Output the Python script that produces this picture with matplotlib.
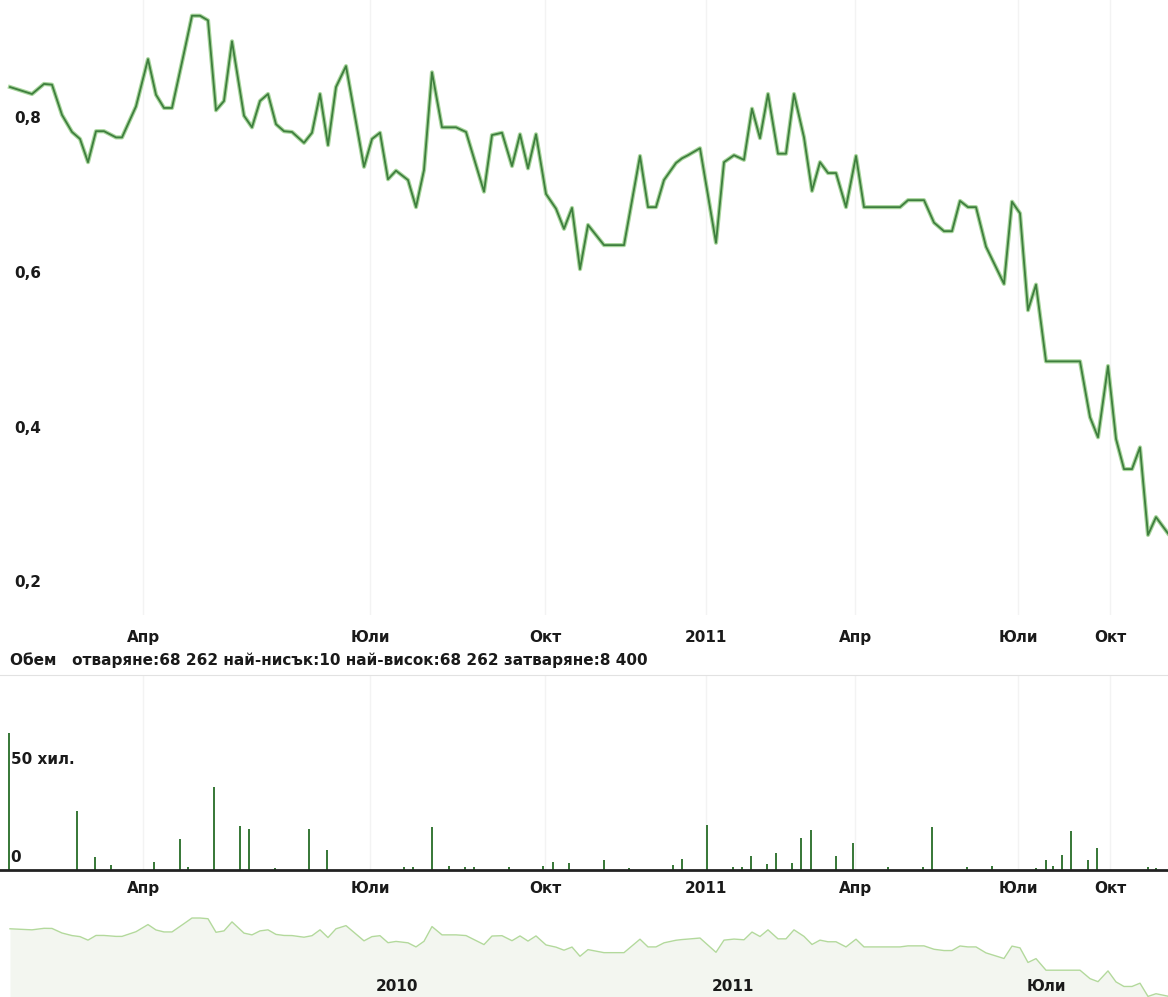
import matplotlib
matplotlib.use("Agg")
import matplotlib.pyplot as plt
import matplotlib.transforms as mtransforms

plt.rcParams['font.family'] = ['DejaVu Sans']

# Price series (x = trading-session position on the chart, y = price)
price_pos = [2.5, 8, 11, 13, 15.5, 18, 20, 22, 24, 26,
             29, 30.5, 34, 37, 39, 41, 43, 46, 48, 50,
             52, 54, 56, 58, 61, 63, 65, 67, 69, 71,
             73, 76, 78, 80, 82, 84, 86.5, 91, 93, 95,
             97, 99, 102, 104, 106, 108, 110.5, 114, 116.5, 121,
             123, 125.5, 128, 130, 132, 134, 136.5, 139, 141, 143,
             145, 147, 151, 156, 160, 162, 164, 166, 169, 170.5,
             172, 175, 179, 181, 183.5, 186, 188, 190, 192, 194.5,
             196.5, 198.5, 201, 203, 205, 207, 209, 211.5, 214, 216,
             225, 227, 231, 233.5, 236, 238, 240, 242, 244, 246.5,
             251, 253, 255, 257, 259, 261.5, 270, 272.5, 274.5, 277,
             279, 281, 283, 285, 287, 289, 292]
price_val = [0.840, 0.831, 0.844, 0.843, 0.804, 0.782, 0.773, 0.743, 0.783, 0.783,
             0.775, 0.775, 0.815, 0.876, 0.830, 0.813, 0.813, 0.884, 0.932, 0.932,
             0.926, 0.810, 0.822, 0.899, 0.803, 0.788, 0.822, 0.831, 0.792, 0.783,
             0.782, 0.768, 0.781, 0.831, 0.765, 0.840, 0.867, 0.737, 0.773, 0.781,
             0.721, 0.732, 0.720, 0.685, 0.733, 0.859, 0.788, 0.788, 0.782, 0.705,
             0.778, 0.781, 0.738, 0.779, 0.735, 0.779, 0.702, 0.683, 0.657, 0.684,
             0.605, 0.662, 0.636, 0.636, 0.751, 0.685, 0.685, 0.720, 0.742, 0.748,
             0.752, 0.761, 0.639, 0.743, 0.752, 0.746, 0.812, 0.774, 0.831, 0.754,
             0.754, 0.831, 0.775, 0.706, 0.743, 0.729, 0.729, 0.685, 0.751, 0.685,
             0.685, 0.694, 0.694, 0.665, 0.654, 0.654, 0.693, 0.685, 0.685, 0.634,
             0.586, 0.692, 0.677, 0.552, 0.585, 0.486, 0.486, 0.414, 0.388, 0.480,
             0.386, 0.347, 0.347, 0.375, 0.262, 0.285, 0.264]

# Volume (thousands of shares)
vol_pos = [2.25, 19.25, 23.75, 27.75, 38.5, 45, 47, 53.5, 60, 62.25,
           68.75, 77.25, 81.75, 101, 103.25, 108, 112.25, 116.25, 118.5, 127.25,
           135.75, 138.25, 142.25, 151, 157.25, 168.25, 170.5, 176.75, 183.25, 185.5,
           187.75, 191.75, 194, 198, 200.25, 202.75, 209, 213.25, 222, 230.75,
           233, 241.75, 248, 259, 261.5, 263.25, 265.5, 267.75, 272, 274.25,
           287, 289]
vol_k = [68.262, 29.5, 6.5, 2.5, 4, 15.5, 1.5, 41.5, 22, 20.5,
         1, 20.5, 10, 1.5, 1.5, 21.5, 2, 1.5, 1.5, 1.5,
         2, 4, 3.5, 5, 1, 2.5, 5.5, 22.5, 1.5, 1.5,
         7, 3, 8.5, 3.5, 16, 20, 7, 13.5, 1.5, 1.5,
         21.5, 1.5, 2, 1, 5, 2, 7.5, 19.5, 5, 11,
         1.5, 1]

month_pos = [35.75, 92.5, 136.25, 176.5, 213.75, 254.5, 277.5]
month_labels = ["Апр", "Юли", "Окт", "2011", "Апр", "Юли", "Окт"]
price_ticks = [0.8, 0.6, 0.4, 0.2]
price_tick_labels = ["0,8", "0,6", "0,4", "0,2"]
nav_pos = [99.25, 183.25, 261.5]
nav_labels = ["2010", "2011", "Юли"]
header = "Обем   отваряне:68 262 най-нисък:10 най-висок:68 262 затваряне:8 400"

W, H = 1168, 997
fig = plt.figure(figsize=(W / 100, H / 100), dpi=100)
fs = 11
fw = "bold"
txt_color = "#1a1a1a"

# --- price panel ---
ax = fig.add_axes([0, 1 - 615 / H, 1, 615 / H])
ax.plot(price_pos, price_val, color="#a8d59c", lw=3.0, solid_joinstyle="round")
ax.plot(price_pos, price_val, color="#3e7f3e", lw=1.3, solid_joinstyle="round")
ax.set_xlim(0, 292)
ax.set_ylim(0.1587, 0.9523)
for s in ax.spines.values():
    s.set_visible(False)
ax.set_yticks([])
ax.set_xticks(month_pos)
ax.set_xticklabels(month_labels, fontsize=fs, color=txt_color, fontweight=fw)
ax.tick_params(axis="x", length=0, pad=11)
ax.set_axisbelow(True)
ax.grid(axis="x", color="#f3f3f3", lw=1)
for v, lab in zip(price_ticks, price_tick_labels):
    ax.text(0.012, v, lab, transform=ax.get_yaxis_transform(), va="center",
            ha="left", fontsize=fs, color=txt_color, fontweight=fw)

# --- volume panel ---
fig.text(10 / W, 1 - 660 / H, header, fontsize=fs, color=txt_color, va="center",
         ha="left", fontweight=fw)
vax = fig.add_axes([0, 1 - 870 / H, 1, 195 / H])
vax.set_axisbelow(True)
vax.grid(axis="x", color="#f3f3f3", lw=1)
vax.bar(vol_pos, vol_k, width=0.65, color="#3b7a3b")
vax.set_xlim(0, 292)
vax.set_ylim(0, 97.5)
vax.spines["left"].set_visible(False)
vax.spines["right"].set_visible(False)
vax.spines["top"].set_color("#e2e2e2")
vax.spines["bottom"].set_color("#222222")
vax.spines["bottom"].set_linewidth(2)
vax.set_yticks([])
vax.set_xticks(month_pos)
vax.set_xticklabels(month_labels, fontsize=fs, color=txt_color, fontweight=fw)
vax.tick_params(axis="x", length=0, pad=8)
vax.text(0.009, 55, "50 хил.", transform=vax.get_yaxis_transform(), va="center",
         ha="left", fontsize=fs, color=txt_color, fontweight=fw)
vax.text(0.009, 6.5, "0", transform=vax.get_yaxis_transform(), va="center",
         ha="left", fontsize=fs, color=txt_color, fontweight=fw)

# --- navigator ---
nax = fig.add_axes([0, 0, 1, 97 / H])
nax.fill_between(price_pos, price_val, 0, color="#f3f6f0", lw=0)
nax.plot(price_pos, price_val, color="#b3d99c", lw=1.0)
nax.set_xlim(0, 292)
nax.set_ylim(0.257, 1.086)
nax.axis("off")
blend = mtransforms.blended_transform_factory(nax.transData, nax.transAxes)
for p, lab in zip(nav_pos, nav_labels):
    nax.text(p, 0.11, lab, transform=blend, ha="center", va="center",
             fontsize=fs, color=txt_color, fontweight=fw)

fig.savefig("out.png", dpi=100)
